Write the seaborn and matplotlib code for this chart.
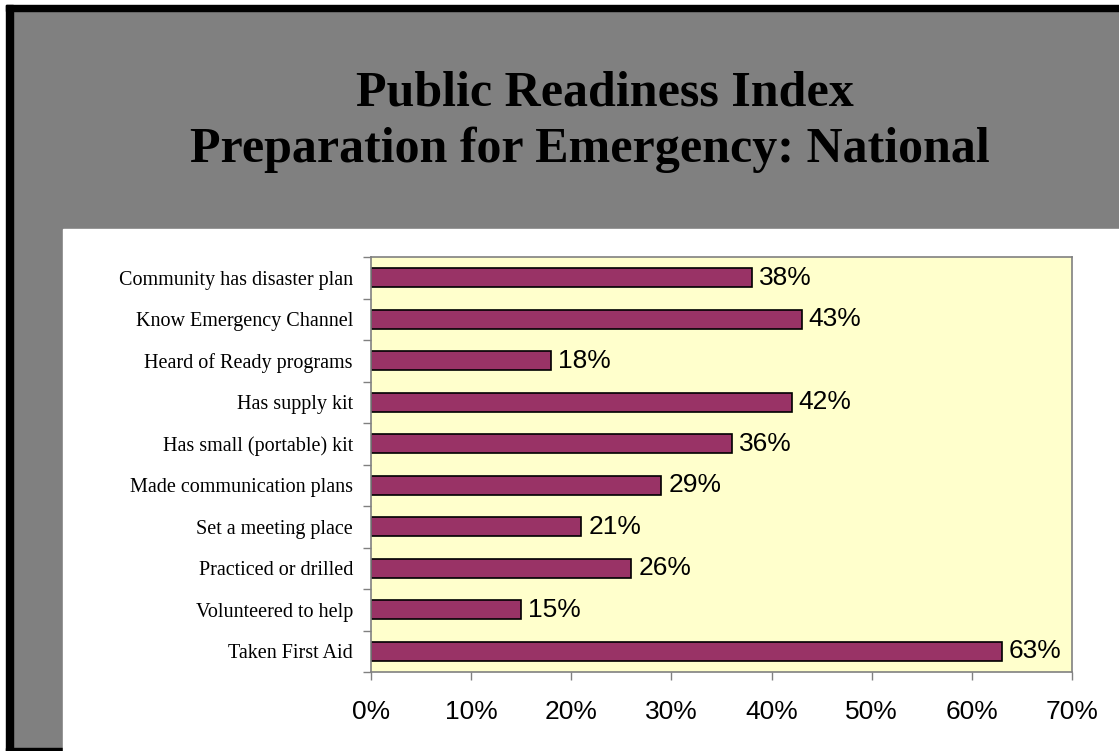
import matplotlib
matplotlib.use("Agg")
import matplotlib.pyplot as plt
from matplotlib.patches import Rectangle
from matplotlib.ticker import FixedLocator, PercentFormatter
import numpy as np
import pandas as pd
import seaborn as sns

# data
items = [
    "Community has disaster plan",
    "Know Emergency Channel",
    "Heard of Ready programs",
    "Has supply kit",
    "Has small (portable) kit",
    "Made communication plans",
    "Set a meeting place",
    "Practiced or drilled",
    "Volunteered to help",
    "Taken First Aid",
]
pct = [38, 43, 18, 42, 36, 29, 21, 26, 15, 63]
x_ticks = [0, 10, 20, 30, 40, 50, 60, 70]

df = pd.DataFrame({"item": items, "pct": pct})

sns.set_style("white")
plt.rcParams["text.color"] = "black"
plt.rcParams["xtick.color"] = "black"
plt.rcParams["ytick.color"] = "black"

W, H = 1119, 751
fig = plt.figure(figsize=(W / 100, H / 100), dpi=100)
fig.patch.set_facecolor("white")

def px_rect(x0, y0, x1, y1, color):
    # pixel box (top-left origin) -> figure fraction
    fig.patches.append(Rectangle((x0 / W, 1 - y1 / H), (x1 - x0) / W, (y1 - y0) / H,
                                 transform=fig.transFigure, color=color, zorder=-10))

# slide frame
px_rect(13, 11, W, H, "#808080")
px_rect(6, 5, W, 11, "black")
px_rect(6, 5, 13, H, "black")
px_rect(6, 748, 63, H, "black")
px_rect(63, 229, W, H, "white")

fig.text(605 / W, 1 - 93 / H, "Public Readiness Index", ha="center", va="center",
         fontsize=36, fontweight="bold", family="Liberation Serif", color="black")
fig.text(590 / W, 1 - 150 / H, "Preparation for Emergency: National", ha="center", va="center",
         fontsize=36, fontweight="bold", family="Liberation Serif", color="black")

ax = fig.add_axes([371 / W, 1 - 672 / H, (1072 - 371) / W, (672 - 257) / H])
sns.barplot(data=df, x="pct", y="item", orient="h", color="#993366", saturation=1,
            width=0.45, edgecolor="black", linewidth=1.2, ax=ax)
ax.set_facecolor("#FFFFCC")
for s in ax.spines.values():
    s.set_color("#808080")
    s.set_linewidth(1.2)

ax.set_xlim(0, 70)
ax.set_ylim(len(items) - 0.5, -0.5)
ax.xaxis.set_major_locator(FixedLocator(x_ticks))
ax.xaxis.set_major_formatter(PercentFormatter(decimals=0))
ax.set_xlabel("")
ax.set_ylabel("")

# excel-style category ticks on the boundaries
ax.yaxis.set_minor_locator(FixedLocator(np.arange(-0.5, len(items), 1)))
ax.tick_params(axis="y", which="major", length=0, pad=13, labelsize=14.5)
ax.tick_params(axis="y", which="minor", length=6, width=1, color="#808080", direction="out", left=True)
ax.tick_params(axis="x", which="major", length=6, width=1, color="#808080", direction="out",
               bottom=True, pad=14, labelsize=19)
for lab in ax.get_yticklabels():
    lab.set_family("Liberation Serif")
for lab in ax.get_xticklabels():
    lab.set_family("Liberation Sans")

for i, v in enumerate(pct):
    ax.text(v + 0.7, i, f"{v}%", va="center", ha="left", fontsize=19, family="Liberation Sans")

fig.savefig("out.png", dpi=100)
